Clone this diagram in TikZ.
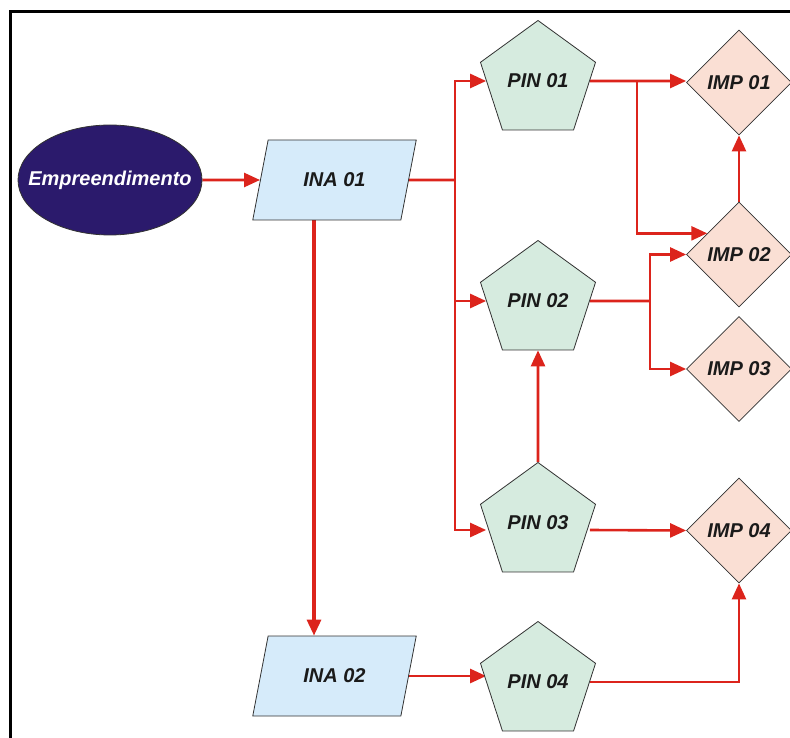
\documentclass[tikz,border=0pt]{standalone}
\usepackage{fontspec}
\setsansfont{Liberation Sans}
\usetikzlibrary{shapes.geometric,arrows.meta,calc}
\pgfdeclarelayer{bg}
\pgfsetlayers{bg,main}
\definecolor{cred}{RGB}{220,36,28}
\definecolor{cnavy}{RGB}{43,26,108}
\definecolor{cblue}{RGB}{214,235,250}
\definecolor{cgreen}{RGB}{214,235,223}
\definecolor{cpink}{RGB}{250,223,212}
\definecolor{cedge}{RGB}{50,50,50}
\definecolor{ctext}{RGB}{26,26,26}
\begin{document}
\begin{tikzpicture}[x=1pt,y=-1pt,
  lbl/.style={font=\fontsize{20}{24}\selectfont\sffamily\bfseries\itshape, text=ctext},
  empbox/.style={ellipse, draw=cedge, line width=0.8pt, fill=cnavy,
    minimum width=184, minimum height=110, inner sep=0pt},
  inabox/.style={lbl, trapezium, trapezium left angle=63, trapezium right angle=117,
    trapezium stretches=true, draw=cedge, line width=0.8pt, fill=cblue,
    minimum width=164, minimum height=80, inner sep=0pt},
  pinbox/.style={lbl, regular polygon, regular polygon sides=5, draw=cedge, line width=0.8pt,
    fill=cgreen, minimum size=121, inner sep=0pt},
  impbox/.style={lbl, diamond, aspect=1, draw=cedge, line width=0.8pt, fill=cpink,
    minimum width=105, minimum height=105, inner sep=0pt},
  ln/.style={draw=cred, line width=2.6pt},
  arr/.style={ln, -{Triangle[length=16pt,width=14pt]}},
  arrthick/.style={arr, line width=3.2pt}
]
\useasboundingbox (0,0) rectangle (790,738);
\clip (0,0) rectangle (790,738);

% frame
\draw[line width=3pt, black] (10.5,745) -- (10.5,11.5) -- (800,11.5);

% nodes
\node[empbox, label={[lbl, text=white]center:Empreendimento}] (emp) at (110,180) {};
\node[inabox] (ina1) at (334.5,180) {INA 01};
\node[inabox] (ina2) at (334.5,676) {INA 02};
\node[pinbox] (pin1) at (538,81) {PIN 01};
\node[pinbox] (pin2) at (538,301) {PIN 02};
\node[pinbox] (pin3) at (538,523) {PIN 03};
\node[pinbox] (pin4) at (538,682) {PIN 04};
\node[impbox] (imp1) at (739,82.5) {IMP 01};
\node[impbox] (imp2) at (739,254.5) {IMP 02};
\node[impbox] (imp3) at (739,369) {IMP 03};
\node[impbox] (imp4) at (739,530.5) {IMP 04};

\coordinate (t) at (455,180);
\coordinate (b1) at (637,81);
\coordinate (b2) at (650,301);

\begin{pgfonlayer}{bg}
\draw[arr] (emp.east) -- (ina1.west);
\draw[ln] (ina1) -- (t);
\draw[arr] (t) |- (pin1);
\draw[arr] (t) |- (pin2);
\draw[arr] (t) |- ($(pin3.west)+(0,7)$);
\draw[arr] (pin1) -- (pin1 -| imp1.west);
\draw[arr] (b1) |- ($(imp2.west)!0.4!(imp2.north)$);
\draw[arr] (imp2.north) -- (imp1.south);
\draw[ln] (pin2) -- (b2);
\draw[arr] (b2) |- (imp2.west);
\draw[arr] (b2) |- (imp3.west);
\draw[arr] (pin3.north) -- (pin2.south);
\draw[arr] ($(pin3.east)+(0,7)$) -- (imp4.west);
\draw[arrthick] ($(ina1.south)+(-20.5,0)$) -- ($(ina2.north)+(-20.5,0)$);
\draw[arr] (ina2) -- (ina2 -| pin4.west);
\draw[arr] (pin4) -| (imp4.south);
\end{pgfonlayer}
\end{tikzpicture}
\end{document}
